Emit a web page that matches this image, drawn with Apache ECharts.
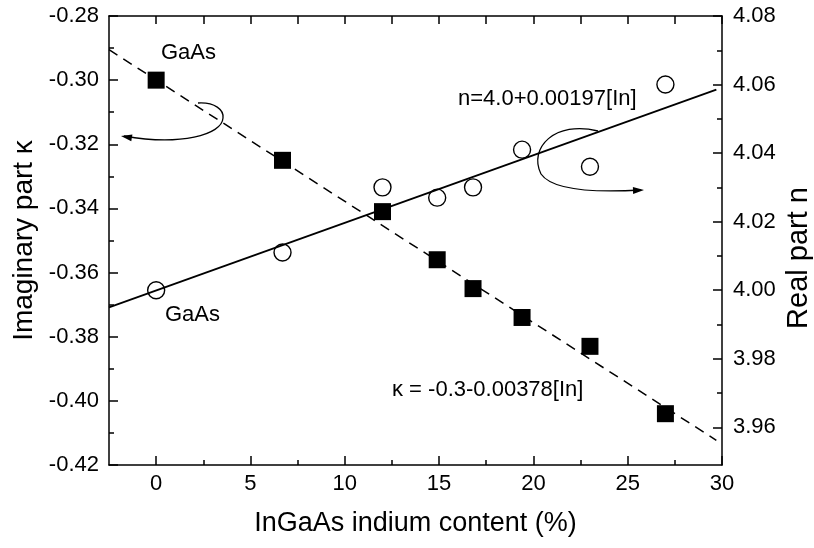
<!DOCTYPE html>
<html><head><meta charset="utf-8">
<script src="https://cdn.jsdelivr.net/npm/echarts@6/dist/echarts.min.js"></script>
<style>html,body{margin:0;padding:0;background:#fff;overflow:hidden}#c{width:814px;height:548px}</style>
</head><body><div id="c"></div>
<script>
// ---- data ----
const indium = [0, 6.7, 12.0, 14.9, 16.8, 19.4, 23.0, 27.0];
const kappa  = [-0.300, -0.325, -0.341, -0.356, -0.365, -0.374, -0.383, -0.404];
const nReal  = [4.000, 4.011, 4.030, 4.027, 4.030, 4.041, 4.036, 4.060];
const fitX   = [-2.5, 29.7];
const fitK   = [-0.2905, -0.4123];
const fitN   = [3.995, 4.0585];
const xTicks      = [0, 5, 10, 15, 20, 25, 30];
const xMinorTicks = [2.5, 7.5, 12.5, 17.5, 22.5, 27.5];
const xTopTicks   = [0, 2.5, 5, 7.5, 10, 12.5, 15, 17.5, 20, 22.5, 25, 27.5, 30];
const nTicks      = [3.96, 3.98, 4.00, 4.02, 4.04, 4.06, 4.08];
const nMinorTicks = [3.97, 3.99, 4.01, 4.03, 4.05, 4.07];
const xRange = [-2.5, 30];
const kRange = [-0.42, -0.28];
const nRange = [3.949, 4.08];

const FONT = '"Liberation Sans", Arial, sans-serif';
const lineS = {color: '#000', width: 1.5};
const labelS = {color: '#000', fontSize: 22, fontFamily: FONT};
const nameS = {color: '#000', fontSize: 27, fontFamily: FONT};

const chart = echarts.init(document.getElementById('c'));

const option = {
  animation: false,
  backgroundColor: '#fff',
  grid: {left: 109, right: 92, top: 16, bottom: 83, containLabel: false, outerBoundsMode: 'none'},
  xAxis: [
    {type: 'value', position: 'bottom', min: xRange[0], max: xRange[1],
     axisLine: {show: true, onZero: false, lineStyle: lineS},
     axisTick: {show: true, inside: true, length: 9, customValues: xTicks, lineStyle: lineS},
     axisLabel: Object.assign({show: true, margin: 8, customValues: xTicks}, labelS),
     splitLine: {show: false},
     name: 'InGaAs indium content (%)', nameLocation: 'middle', nameGap: 45, nameTextStyle: nameS},
    {type: 'value', position: 'bottom', min: xRange[0], max: xRange[1],
     axisLine: {show: false, onZero: false},
     axisTick: {show: true, inside: true, length: 5, customValues: xMinorTicks, lineStyle: lineS},
     axisLabel: {show: false}, splitLine: {show: false}},
    {type: 'value', position: 'top', min: xRange[0], max: xRange[1],
     axisLine: {show: true, onZero: false, lineStyle: lineS},
     axisTick: {show: true, inside: true, length: 8, customValues: xTopTicks, lineStyle: lineS},
     axisLabel: {show: false}, splitLine: {show: false}}
  ],
  yAxis: [
    {type: 'value', position: 'left', min: kRange[0], max: kRange[1], interval: 0.02,
     axisLine: {show: true, onZero: false, lineStyle: lineS},
     axisTick: {show: true, inside: true, length: 9, lineStyle: lineS},
     minorTick: {show: true, splitNumber: 2, length: 5, lineStyle: lineS},
     axisLabel: Object.assign({show: true, margin: 10, formatter: v => v.toFixed(2)}, labelS),
     splitLine: {show: false},
     name: 'Imaginary part \u03BA', nameLocation: 'middle', nameGap: 68,
     nameTextStyle: Object.assign({}, nameS, {fontSize: 28})},
    {type: 'value', position: 'right', min: nRange[0], max: nRange[1],
     axisLine: {show: true, onZero: false, lineStyle: lineS},
     axisTick: {show: true, inside: true, length: 9, customValues: nTicks, lineStyle: lineS},
     axisLabel: Object.assign({show: true, margin: 11, customValues: nTicks, formatter: v => v.toFixed(2)}, labelS),
     splitLine: {show: false}},
    {type: 'value', position: 'right', min: nRange[0], max: nRange[1],
     axisLine: {show: false, onZero: false},
     axisTick: {show: true, inside: true, length: 5, customValues: nMinorTicks, lineStyle: lineS},
     axisLabel: {show: false}, splitLine: {show: false}}
  ],
  series: [
    {type: 'line', xAxisIndex: 0, yAxisIndex: 0, z: 2, symbol: 'none', silent: true,
     data: fitX.map((x, i) => [x, fitK[i]]),
     lineStyle: {color: '#000', width: 1.5, type: [10, 7]}},
    {type: 'line', xAxisIndex: 0, yAxisIndex: 1, z: 2, symbol: 'none', silent: true,
     data: fitX.map((x, i) => [x, fitN[i]]),
     lineStyle: {color: '#000', width: 1.8}},
    {type: 'scatter', xAxisIndex: 0, yAxisIndex: 0, z: 3, symbol: 'rect', symbolSize: 17,
     data: indium.map((x, i) => [x, kappa[i]]),
     itemStyle: {color: '#000', opacity: 1}},
    {type: 'scatter', xAxisIndex: 0, yAxisIndex: 1, z: 3, symbol: 'circle', symbolSize: 17,
     data: indium.map((x, i) => [x, nReal[i]]),
     itemStyle: {color: 'rgba(0,0,0,0)', borderColor: '#000', borderWidth: 1.4, opacity: 1}}
  ]
};
chart.setOption(option);

// ---- annotations (texts and curved arrows) ----
function arrowHead(tip, from, len, half) {
  const dx = tip[0] - from[0], dy = tip[1] - from[1];
  const d = Math.hypot(dx, dy) || 1, ux = dx / d, uy = dy / d;
  const bx = tip[0] - ux * len, by = tip[1] - uy * len;
  return {type: 'polygon', z: 10, silent: true,
    shape: {points: [tip, [bx - uy * half, by + ux * half], [bx + uy * half, by - ux * half]]},
    style: {fill: '#000'}};
}
function bez(p0, c1, c2, p1) {
  return {type: 'bezierCurve', z: 10, silent: true,
    shape: {x1: p0[0], y1: p0[1], cpx1: c1[0], cpy1: c1[1], cpx2: c2[0], cpy2: c2[1], x2: p1[0], y2: p1[1]},
    style: {stroke: '#000', lineWidth: 1.3, fill: null}};
}
function txt(s, x, y) {
  return {type: 'text', z: 10, silent: true, x: x, y: y,
    style: {text: s, fill: '#000', font: '22px ' + FONT, textAlign: 'left', textVerticalAlign: 'middle'}};
}
const g = [
  txt('GaAs', 161, 53),
  txt('GaAs', 165, 315),
  txt('n=4.0+0.00197[In]', 458, 99),
  txt('\u03BA = -0.3-0.00378[In]', 392, 390),
  {type: 'text', z: 10, silent: true, x: 799, y: 258, rotation: Math.PI / 2,
   style: {text: 'Real part n', fill: '#000', font: '29px ' + FONT, textAlign: 'center', textVerticalAlign: 'middle'}},
  bez([198, 103], [215, 102], [224, 110], [223, 118]),
  bez([223, 118], [222, 135], [180, 146], [124, 136]),
  arrowHead([121, 136], [180, 146], 11, 3.5),
  bez([598, 131], [555, 120], [528, 148], [541, 174]),
  bez([541, 174], [552, 190], [590, 193], [641, 190]),
  arrowHead([644, 190], [590, 192], 11, 3.5)
];
chart.setOption({graphic: g});
</script>
</body></html>
